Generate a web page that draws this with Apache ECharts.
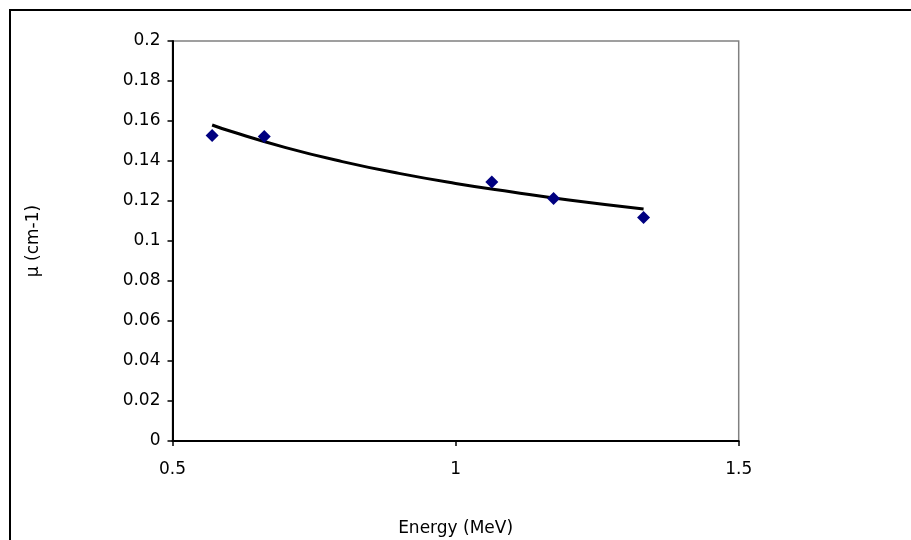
<!DOCTYPE html>
<html><head><meta charset="utf-8">
<script src="https://cdn.jsdelivr.net/npm/echarts@6/dist/echarts.min.js"></script>
<style>html,body{margin:0;padding:0;background:#fff}#c{width:911px;height:540px}</style>
</head><body><div id="c"></div>
<script>
// Measured points: energy (MeV) and attenuation coefficient mu (cm-1)
const energies = [0.57, 0.662, 1.064, 1.173, 1.332];
const muValues = [0.1527, 0.1522, 0.1295, 0.1213, 0.1118];
// Trendline
const trendX = [0.57, 0.6, 0.7, 0.8, 0.9, 1.0, 1.1, 1.2, 1.332];
const trendY = [0.158, 0.1551, 0.1467, 0.1397, 0.1338, 0.1288, 0.1245, 0.1205, 0.116];
const xTicks = [0.5, 1, 1.5];
const yTicks = [0, 0.02, 0.04, 0.06, 0.08, 0.1, 0.12, 0.14, 0.16, 0.18, 0.2];

const font = 'DejaVu Sans';
const chart = echarts.init(document.getElementById('c'), null, {renderer: 'canvas'});
chart.setOption({
  animation: false,
  backgroundColor: '#fff',
  grid: {left: 172.5, right: 172.3, top: 41, bottom: 99, outerBoundsMode: 'none', containLabel: false,
    show: true, borderColor: '#808080', borderWidth: 1.5, backgroundColor: 'transparent'},
  xAxis: {
    type: 'value', min: xTicks[0], max: xTicks[xTicks.length - 1], interval: 0.5,
    name: 'Energy (MeV)', nameLocation: 'middle', nameGap: 79,
    nameTextStyle: {fontFamily: font, fontSize: 17, color: '#000'},
    axisLine: {show: true, onZero: false, lineStyle: {color: '#000', width: 2}},
    axisTick: {show: true, length: 5, lineStyle: {color: '#000', width: 1.5}},
    axisLabel: {fontFamily: font, fontSize: 17, color: '#000', margin: 20,
      formatter: v => (xTicks.indexOf(v) >= 0 ? String(v) : '')},
    splitLine: {show: false}
  },
  yAxis: {
    type: 'value', min: 0, max: 0.2, interval: 0.02,
    name: 'µ (cm-1)', nameLocation: 'middle', nameGap: 130, nameRotate: 90,
    nameTextStyle: {fontFamily: font, fontSize: 17, color: '#000'},
    axisLine: {show: true, onZero: false, lineStyle: {color: '#000', width: 2}},
    axisTick: {show: true, length: 5, lineStyle: {color: '#000', width: 1.5}},
    axisLabel: {fontFamily: font, fontSize: 17, color: '#000', margin: 12,
      formatter: v => { const t = yTicks.find(k => Math.abs(k - v) < 1e-9); return t === undefined ? '' : String(t); }},
    splitLine: {show: false}
  },
  series: [
    {
      type: 'line', data: trendX.map((x, i) => [x, trendY[i]]), smooth: true,
      showSymbol: false, lineStyle: {color: '#000', width: 3}, z: 2
    },
    {
      type: 'scatter', data: energies.map((x, i) => [x, muValues[i]]),
      symbol: 'diamond', symbolSize: [13, 13],
      itemStyle: {color: '#000080', opacity: 1}, z: 3
    }
  ],
  graphic: [
    {type: 'polyline', shape: {points: [[10, 540], [10, 10], [911, 10]]}, style: {stroke: '#000', lineWidth: 2, fill: null}}
  ]
});
</script></body></html>
